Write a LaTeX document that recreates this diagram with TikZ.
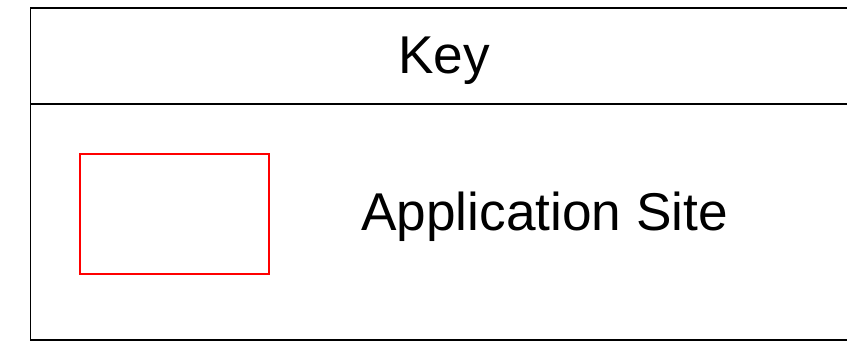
\documentclass[tikz,border=0pt]{standalone}
\usepackage{fontspec}
\setmainfont{Liberation Sans}

\tikzset{
  frame/.style={black, line width=1.3pt},
  swatch/.style={draw=red, line width=2pt, minimum width=189pt, minimum height=120pt, inner sep=0pt},
  keylabel/.style={inner sep=0pt, font=\fontsize{53.2}{60}\selectfont}
}

\begin{document}
\begin{tikzpicture}[x=1pt,y=-1pt]
			\useasboundingbox (0,0) rectangle (847,341);
			\draw[frame] (860,8) -- (30.5,8) -- (30.5,340) -- (860,340);
			\draw[frame] (30.5,104) -- (860,104);

			\node[keylabel, anchor=base] (key) at (444,73) {Key};
			\node[swatch] (site box) at (174,213.5) {};
			\node[keylabel, anchor=base west] (site label) at (361,230) {Application Site};
		\end{tikzpicture}
\end{document}
